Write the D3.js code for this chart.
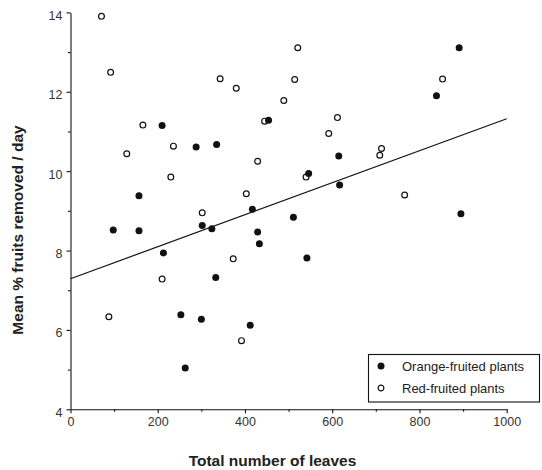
<!DOCTYPE html>
<html>
<head>
<meta charset="utf-8">
<script src="https://cdn.jsdelivr.net/npm/d3@7"></script>
<style>
	body { margin: 0; background: #fff; }
	svg { display: block; font-family: 'Liberation Sans', Arial, sans-serif; }
	.tick-label { fill: #333; font-size: 12.5px; }
	.axis-title { fill: #222; font-size: 15.5px; font-weight: bold; }
	.legend-label { fill: #222; font-size: 13px; }
</style>
</head>
<body>
<script>
(function () {

	// orange-fruited plants (filled dots): [leaves, % removed]
	var orangeLeaves = [98, 157, 157, 210, 213, 253, 263, 288, 300, 302, 324, 333, 335, 412, 417, 429, 433, 454, 511, 542, 546, 615, 617, 839, 891, 895];
	var orangeRemoved = [8.52, 9.38, 8.50, 11.15, 7.94, 6.38, 5.04, 10.61, 6.27, 8.63, 8.55, 7.32, 10.67, 6.12, 9.04, 8.47, 8.17, 11.28, 8.84, 7.81, 9.94, 10.38, 9.65, 11.90, 13.11, 8.93];

	// red-fruited plants (open dots)
	var redLeaves = [71, 88, 92, 129, 166, 210, 230, 236, 302, 343, 373, 380, 392, 403, 429, 445, 489, 514, 521, 540, 592, 612, 709, 713, 766, 853];
	var redRemoved = [13.90, 6.33, 12.49, 10.44, 11.16, 7.28, 9.85, 10.63, 8.95, 12.33, 7.79, 12.09, 5.73, 9.43, 10.25, 11.26, 11.78, 12.31, 13.11, 9.85, 10.95, 11.35, 10.40, 10.57, 9.40, 12.32];

	// fitted regression line end points
	var fitX = [0, 1000];
	var fitY = [7.29, 11.32];

	var xTicks = [0, 200, 400, 600, 800, 1000];
	var xMinorTicks = [100, 300, 500, 700, 900];
	var yTicks = [4, 6, 8, 10, 12, 14];
	var yMinorTicks = [5, 7, 9, 11, 13];

	var legendLabels = ['Orange-fruited plants', 'Red-fruited plants'];

	var width = 542,
		height = 470,
		dotRadius = 3.5;

	var svg = d3.select('body').append('svg')
		.attr('width', width)
		.attr('height', height);

	var x = d3.scaleLinear().domain([0, 1000]).range([70.5, 506.7]);
	var y = d3.scaleLinear().domain([4, 14]).range([409.3, 12.4]);

	// x axis
	var xAxisEl = svg.append('g')
		.attr('transform', 'translate(0,' + y(4) + ')')
		.call(d3.axisBottom(x).tickValues(xTicks).tickFormat(d3.format('d')).tickSize(4).tickPadding(4).tickSizeOuter(0));
	xAxisEl.append('g')
		.call(d3.axisBottom(x).tickValues(xMinorTicks).tickSize(2.5).tickFormat('').tickSizeOuter(0))
		.select('.domain').remove();

	// y axis
	var yAxisEl = svg.append('g')
		.attr('transform', 'translate(' + x(0) + ',0)')
		.call(d3.axisLeft(y).tickValues(yTicks).tickSize(4).tickPadding(4).tickSizeOuter(0));
	yAxisEl.append('g')
		.call(d3.axisLeft(y).tickValues(yMinorTicks).tickSize(2.5).tickFormat('').tickSizeOuter(0))
		.select('.domain').remove();

	svg.selectAll('.domain, .tick line').attr('stroke', '#111').attr('stroke-width', 1.1);
	svg.selectAll('.tick text').attr('class', 'tick-label').attr('font-family', null).attr('font-size', null).attr('fill', null);
	yAxisEl.selectAll('.tick text').attr('dy', '0.55em');

	// axis titles
	svg.append('text')
		.attr('class', 'axis-title')
		.attr('x', 272.5)
		.attr('y', 466)
		.attr('text-anchor', 'middle')
		.text('Total number of leaves');

	svg.append('text')
		.attr('class', 'axis-title')
		.attr('transform', 'translate(23,230) rotate(-90)')
		.attr('text-anchor', 'middle')
		.text('Mean % fruits removed / day');

	// regression line
	svg.append('line')
		.attr('x1', x(fitX[0])).attr('y1', y(fitY[0]))
		.attr('x2', x(fitX[1])).attr('y2', y(fitY[1]))
		.attr('stroke', '#111')
		.attr('stroke-width', 1.2);

	// dots
	svg.append('g').selectAll('circle').data(redLeaves).enter().append('circle')
		.attr('cx', function (d) { return x(d); })
		.attr('cy', function (d, i) { return y(redRemoved[i]); })
		.attr('r', dotRadius - 0.6)
		.attr('fill', '#fff')
		.attr('stroke', '#111')
		.attr('stroke-width', 1.2);

	svg.append('g').selectAll('circle').data(orangeLeaves).enter().append('circle')
		.attr('cx', function (d) { return x(d); })
		.attr('cy', function (d, i) { return y(orangeRemoved[i]); })
		.attr('r', dotRadius)
		.attr('fill', '#111');

	// legend
	var legend = svg.append('g');
	legend.append('rect')
		.attr('x', 368.5).attr('y', 354.5)
		.attr('width', 171).attr('height', 47.5)
		.attr('fill', '#fff')
		.attr('stroke', '#111')
		.attr('stroke-width', 1.1);

	var rows = legend.selectAll('.row').data(legendLabels).enter().append('g')
		.attr('class', 'row')
		.attr('transform', function (d, i) { return 'translate(381,' + (366 + i * 22) + ')'; });
	rows.append('circle')
		.attr('r', function (d, i) { return i === 0 ? dotRadius : dotRadius - 0.6; })
		.attr('fill', function (d, i) { return i === 0 ? '#111' : '#fff'; })
		.attr('stroke', '#111')
		.attr('stroke-width', function (d, i) { return i === 0 ? 0 : 1.2; });
	rows.append('text')
		.attr('class', 'legend-label')
		.attr('x', 21)
		.attr('y', 4.5)
		.text(function (d) { return d; });

}());
</script>
</body>
</html>
